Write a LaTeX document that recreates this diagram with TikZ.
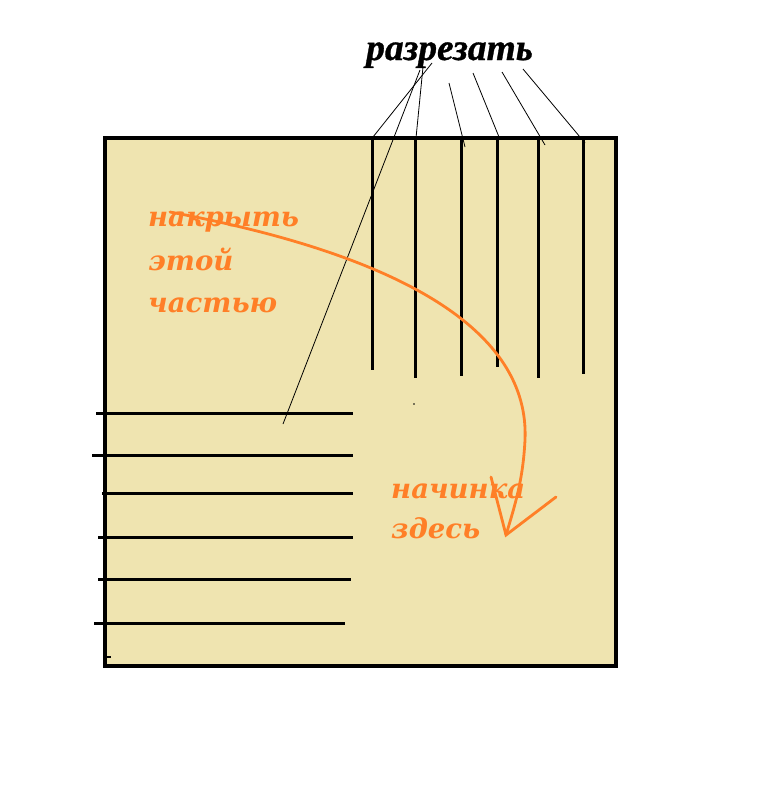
\documentclass[tikz,border=0pt]{standalone}
\usepackage{fontspec}
\newfontfamily\titlefont{Liberation Serif Bold Italic}[FakeBold=0.8]
\newfontfamily\labfont{DejaVu Serif Bold Italic}
\definecolor{paper}{HTML}{EFE4B0}
\definecolor{orng}{HTML}{FF7F27}
\tikzset{
  cut/.style={line width=3pt, line cap=butt},
  pointer/.style={line width=0.8pt},
  label/.style={font=\labfont\fontsize{27.5}{42}\selectfont, text=orng, inner sep=0pt, anchor=base west},
  arrowline/.style={orng, line width=2.8pt, line cap=round}
}
\begin{document}
\begin{tikzpicture}[x=1pt,y=-1pt]
\useasboundingbox (0,0) rectangle (758,800);
% sheet
\draw[fill=paper, line width=3.5pt] (105,138) rectangle (616,666);
% vertical cuts
\foreach \x/\yb/\n in {372/370/1, 415/378/2, 461/376/3, 497/367/4, 538/378/5, 583/374/6}{
  \coordinate (vt\n) at (\x,138);
  \coordinate (vb\n) at (\x,\yb);
  \draw[cut] (vt\n) -- (vb\n);
}
% horizontal cuts
\foreach \y/\xa/\xb/\n in {413/96/353/1, 455/92/353/2, 493/102/353/3, 537/98/353/4, 579/98/351/5, 623/94/345/6}{
  \coordinate (hl\n) at (\xa,\y);
  \coordinate (hr\n) at (\xb,\y);
  \draw[cut] (hl\n) -- (hr\n);
}
\draw[line width=2.5pt] (106,657) -- (111,657);
\fill (414,404) circle (0.8pt);
% title
\node[font=\titlefont\fontsize{37.5}{40}\selectfont, inner sep=0pt, anchor=base west] (title) at (366,60) {разрезать};
% pointer lines
\coordinate (p1a) at (432,63);  \coordinate (p1b) at (373,137);
\coordinate (p2a) at (423,67);  \coordinate (p2b) at (416,138);
\coordinate (p3a) at (420,70);  \coordinate (p3b) at (283,424);
\coordinate (p4a) at (449,83);  \coordinate (p4b) at (465,147);
\coordinate (p5a) at (473,73);  \coordinate (p5b) at (499,137);
\coordinate (p6a) at (502,72);  \coordinate (p6b) at (545,145);
\coordinate (p7a) at (523,69);  \coordinate (p7b) at (585,143);
\foreach \n in {1,...,7}{\draw[pointer] (p\n a) -- (p\n b);}
% orange labels
\node[label] (cover1) at (148,226) {накрыть};
\node[label] (cover2) at (148,270) {этой};
\node[label] (cover3) at (148,312) {частью};
\node[label] (fill1) at (391,498) {начинка};
\node[label] (fill2) at (391,538) {здесь};
% orange arrow
\coordinate (a0) at (170,212);
\coordinate (tip) at (506,535);
\draw[arrowline] (a0) .. controls (400,255) and (530,330) .. (525,440) .. controls (523,480) and (515,505) .. (tip);
\coordinate (h1) at (491,477);
\coordinate (h2) at (556,497);
\draw[arrowline] (h1) -- (tip) -- (h2);
\end{tikzpicture}
\end{document}
